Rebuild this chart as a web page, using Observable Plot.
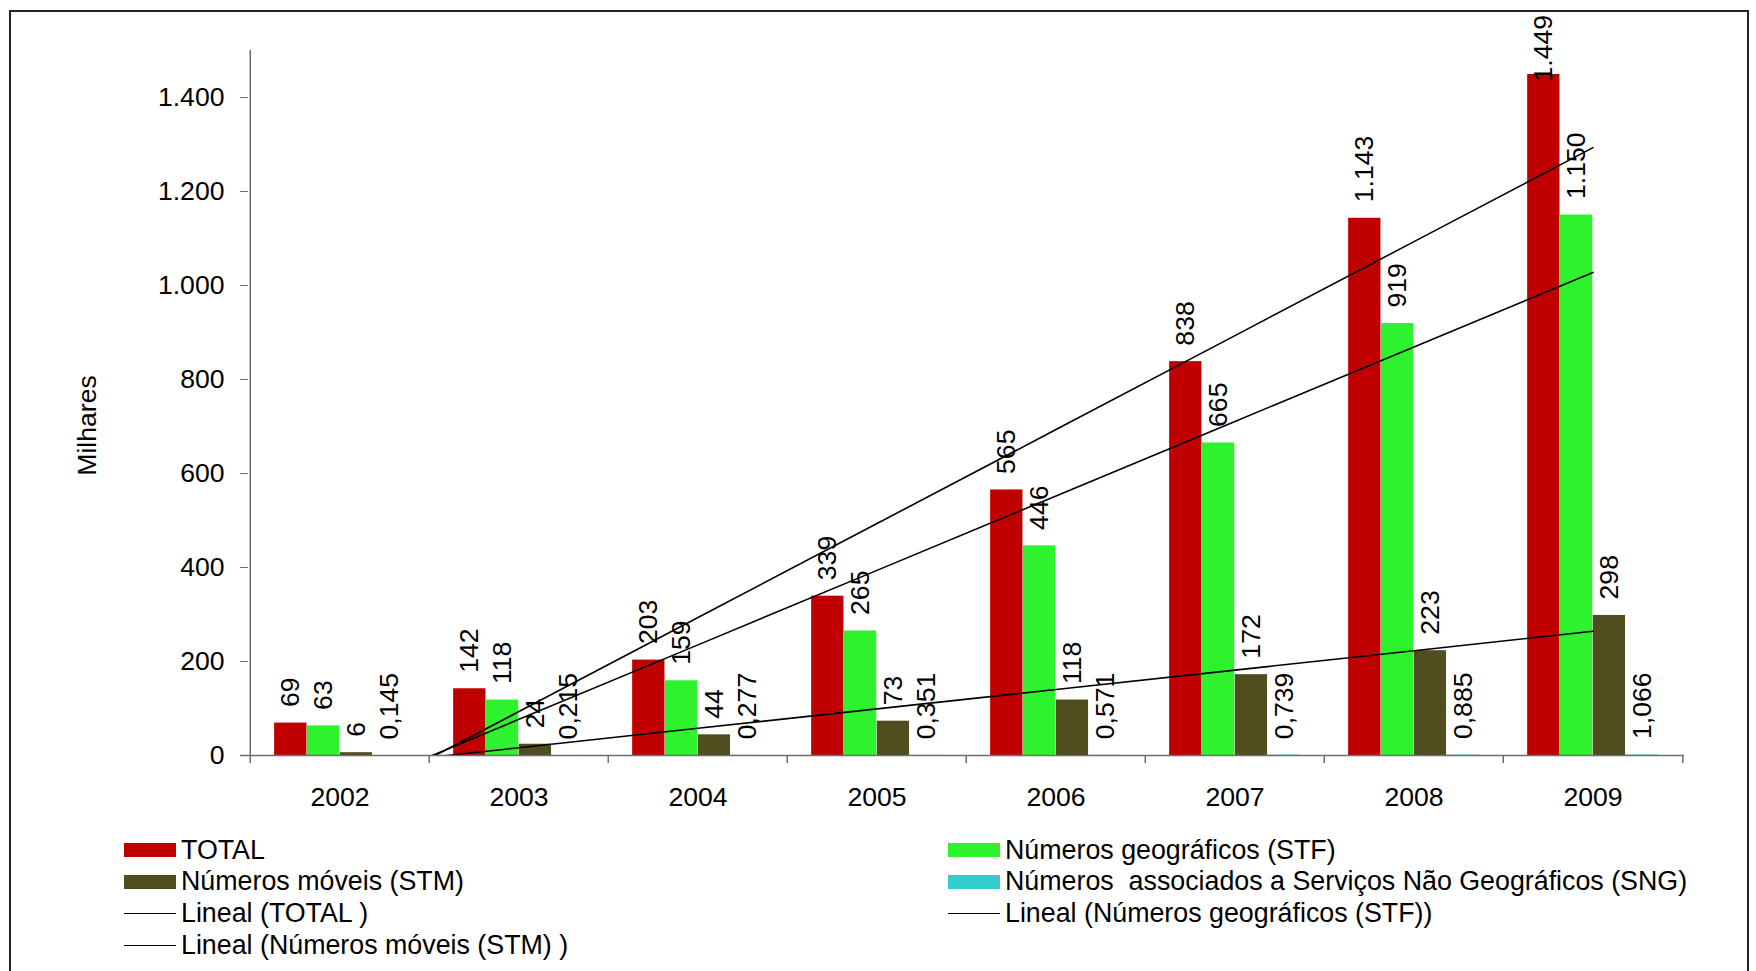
<!DOCTYPE html>
<html><head><meta charset="utf-8">
<script src="https://cdn.jsdelivr.net/npm/d3@7"></script>
<script src="https://cdn.jsdelivr.net/npm/@observablehq/plot@0.6"></script>
<style>
html,body{margin:0;padding:0;background:#fff;}
body{width:1756px;height:971px;overflow:hidden;position:relative;font-family:"Liberation Sans",Arial,sans-serif;}
#frame{position:absolute;left:9px;top:10px;width:1736px;height:1000px;border:2px solid #222;pointer-events:none;}
#chart{position:absolute;left:0;top:0;}
#legend{position:absolute;left:0;top:0;font-size:26.8px;color:#000;}
.item{position:absolute;display:flex;align-items:center;height:32px;white-space:pre;}
.sw{width:52px;height:14px;margin-right:5px;flex:none;}
.ln{width:52px;height:0;border-top:1.5px solid #000;margin-right:5px;flex:none;}
</style></head><body>
<div id="chart"></div>
<div id="legend"></div>
<div id="frame"></div>
<script>
// ---- data (thousands) ----
const years = ["2002","2003","2004","2005","2006","2007","2008","2009"];
const total = [69,142,203,339,565,838,1143,1449];
const stf   = [63,118,159,265,446,665,919,1150];
const stm   = [6,24,44,73,118,172,223,298];
const sng   = [0.145,0.215,0.277,0.351,0.571,0.739,0.885,1.066];
const yTicks = [0,200,400,600,800,1000,1200,1400];
const seriesNames = ["TOTAL","Números geográficos (STF)","Números móveis (STM)","Números  associados a Serviços Não Geográficos (SNG)"];
const trendNames = ["Lineal (TOTAL )","Lineal (Números geográficos (STF))","Lineal (Números móveis (STM) )"];
const colors = ["#C00000","#2EF22E","#504E1E","#33CCCC"];

const loc = d3.formatLocale({decimal:",", thousands:".", grouping:[3], currency:["",""]});
const fInt = loc.format(",d");
const fDec = loc.format(".3f");

// ---- layout ----
const W=1756, H=830, ML=248, MR=72, MT=50, MB=75;
const FS = 26.6;
const step = (W-ML-MR)/years.length;
const barW = 32.8;
const padOuter = (step - 4*barW)/2;
const LABEL_CAP = 1400; // labels kept inside the chart area

const seriesVals = [total, stf, stm, sng];
const fmts = [fInt, fInt, fInt, fDec];

function fit(vals){
  const xs = d3.range(1, vals.length+1);
  const mx = d3.mean(xs), my = d3.mean(vals);
  const b = d3.sum(xs,(x,i)=>(x-mx)*(vals[i]-my)) / d3.sum(xs,x=>(x-mx)**2);
  const a = my - b*mx;
  return years.map((yr,i)=>({year:yr, value:a+b*(i+1)}));
}

const marks = [];
seriesVals.forEach((vals,k)=>{
  const data = years.map((yr,i)=>({year:yr, value:vals[i]}));
  marks.push(Plot.barY(data,{x:"year", y:"value", fill:colors[k],
    insetLeft: padOuter + k*barW, insetRight: step - padOuter - (k+1)*barW}));
});
[total, stf, stm].forEach(vals=>{
  marks.push(Plot.line(fit(vals),{x:"year", y:"value", stroke:"#000", strokeWidth:1.6, clip:true}));
});
seriesVals.forEach((vals,k)=>{
  const data = years.map((yr,i)=>({year:yr, value:vals[i]}));
  marks.push(Plot.text(data,{x:"year", y:d=>Math.min(d.value, LABEL_CAP), text:d=>fmts[k](d.value),
    rotate:-90, textAnchor:"start", dx: padOuter + (k+0.5)*barW - step/2, dy:-16,
    fontSize:FS, fill:"#000"}));
});
// axes
marks.push(Plot.ruleX([years[0]],{x:d=>d, dx:-step/2, stroke:"#6e6e6e", strokeWidth:1.5}));
marks.push(Plot.ruleY([0],{insetLeft:-8, stroke:"#6e6e6e", strokeWidth:1.5}));
marks.push(Plot.ruleX(years,{x:d=>d, dx:-step/2, insetTop:H-MT-MB, insetBottom:-8, stroke:"#6e6e6e", strokeWidth:1.5}));
marks.push(Plot.ruleX([years[years.length-1]],{x:d=>d, dx:step/2, insetTop:H-MT-MB, insetBottom:-8, stroke:"#6e6e6e", strokeWidth:1.5}));
marks.push(Plot.axisY({ticks:yTicks, tickFormat:fInt, tickSize:8, tickPadding:16, fontSize:FS, stroke:"#6e6e6e", fill:"#000"}));
marks.push(Plot.axisX({tickSize:0, tickPadding:32, fontSize:FS, fill:"#000"}));
marks.push(Plot.text(["Milhares"],{frameAnchor:"left", text:d=>d, rotate:-90, textAnchor:"middle",
  dx:87-ML, dy:425-(MT+H-MB)/2, fontSize:FS, fill:"#000"}));

const chart = Plot.plot({
  width:W, height:H, marginLeft:ML, marginRight:MR, marginTop:MT, marginBottom:MB,
  style:{fontFamily:'"Liberation Sans", Arial, sans-serif', fontSize:FS+"px", background:"#fff", overflow:"visible", color:"#000"},
  x:{type:"band", domain:years, padding:0, label:null},
  y:{domain:[0,1500], label:null},
  marks
});
document.getElementById("chart").appendChild(chart);

// ---- legend ----
const legendItems = [
  {label:seriesNames[0], kind:"sw", color:colors[0], col:0, row:0},
  {label:seriesNames[1], kind:"sw", color:colors[1], col:1, row:0},
  {label:seriesNames[2], kind:"sw", color:colors[2], col:0, row:1},
  {label:seriesNames[3], kind:"sw", color:colors[3], col:1, row:1},
  {label:trendNames[0], kind:"ln", col:0, row:2},
  {label:trendNames[1], kind:"ln", col:1, row:2},
  {label:trendNames[2], kind:"ln", col:0, row:3}
];
const colX = [124, 948];
const leg = document.getElementById("legend");
legendItems.forEach(it=>{
  const d = document.createElement("div");
  d.className = "item";
  d.style.left = colX[it.col]+"px";
  d.style.top = (834 + it.row*31.8)+"px";
  const s = document.createElement("span");
  s.className = it.kind;
  if (it.kind==="sw") s.style.background = it.color;
  d.appendChild(s);
  const t = document.createElement("span");
  t.textContent = it.label;
  d.appendChild(t);
  leg.appendChild(d);
});
</script>
</body></html>
